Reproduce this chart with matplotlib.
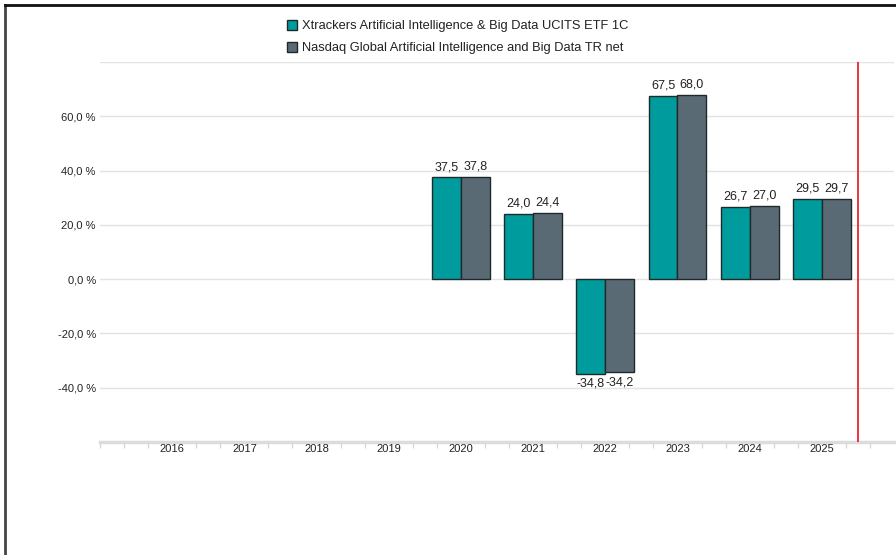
import numpy as np
import matplotlib
matplotlib.use('Agg')
from matplotlib import pyplot as plt
from matplotlib.patches import Patch
from matplotlib.lines import Line2D

plt.rcParams['font.family'] = ['Liberation Sans', 'DejaVu Sans']

years = ['2016', '2017', '2018', '2019', '2020', '2021', '2022', '2023', '2024', '2025']
fund = [np.nan, np.nan, np.nan, np.nan, 37.5, 24.0, -34.8, 67.5, 26.7, 29.5]
index = [np.nan, np.nan, np.nan, np.nan, 37.8, 24.4, -34.2, 68.0, 27.0, 29.7]
fund_name = 'Xtrackers Artificial Intelligence & Big Data UCITS ETF 1C'
index_name = 'Nasdaq Global Artificial Intelligence and Big Data TR net'
y_ticks = [-40, -20, 0, 20, 40, 60]

teal = '#009b9c'
slate = '#5a6a75'
edge = '#1e2a2a'
text_col = '#222222'

fig = plt.figure(figsize=(8.96, 5.55), dpi=100)
ax = fig.add_axes([100 / 896, 1 - 442 / 555, 794 / 896, 380 / 555])

x = np.arange(len(years))
w = 0.4
ax.bar(x - w / 2, fund, w, color=teal, edgecolor=edge, linewidth=1, zorder=3)
ax.bar(x + w / 2, index, w, color=slate, edgecolor=edge, linewidth=1, zorder=3)

for xs, vals in ((x - w / 2, fund), (x + w / 2, index)):
    for xi, v in zip(xs, vals):
        if np.isnan(v):
            continue
        lbl = f'{v:.1f}'.replace('.', ',')
        if v >= 0:
            ax.annotate(lbl, (xi, v), xytext=(0, 3), textcoords='offset points',
                        ha='center', va='bottom', fontsize=9, color=text_col)
        else:
            ax.annotate(lbl, (xi, v), xytext=(0, -3), textcoords='offset points',
                        ha='center', va='top', fontsize=9, color=text_col)

ax.set_xlim(-1, 10)
ax.set_ylim(-60, 80)
ax.set_yticks(y_ticks + [80])
ax.set_yticklabels([f'{t:.1f} %'.replace('.', ',') for t in y_ticks] + [''])
ax.set_xticks(x)
ax.set_xticklabels(years)
bounds = np.arange(-0.5, 10.5, 1.0)
ax.set_xticks(np.concatenate([bounds - 0.166, bounds + 0.166, [-1]]), minor=True)

ax.grid(axis='y', color='#e3e3e3', linewidth=1, zorder=0)
for s in ['top', 'right', 'left']:
    ax.spines[s].set_visible(False)
ax.spines['bottom'].set_color('#dcdcdc')
ax.spines['bottom'].set_linewidth(2.5)
ax.spines['bottom'].set_zorder(1)

ax.tick_params(axis='y', length=0, pad=3, labelsize=8, labelcolor=text_col)
ax.tick_params(axis='x', which='major', length=0, pad=1.5, labelsize=8, labelcolor=text_col)
ax.tick_params(axis='x', which='minor', length=4, width=1, color='#d8d8d8')

ax.axvline(9.5, color='#e8272b', linewidth=1.3, zorder=4)

handles = [Patch(facecolor=teal, edgecolor=edge, label=fund_name),
           Patch(facecolor=slate, edgecolor=edge, label=index_name)]
fig.legend(handles=handles, loc='upper left', bbox_to_anchor=(275 / 896, 1 - 8 / 555),
           frameon=False, fontsize=9.3, handlelength=0.8, handleheight=0.8,
           handletextpad=0.4, labelspacing=0.75, labelcolor=text_col)

fig.add_artist(Line2D([5 / 896, 5 / 896], [0, 1 - 5 / 555], transform=fig.transFigure,
                      color='#444444', linewidth=2))
fig.add_artist(Line2D([5 / 896, 1], [1 - 5 / 555, 1 - 5 / 555], transform=fig.transFigure,
                      color='#111111', linewidth=2))

fig.savefig('out.png', dpi=100)
